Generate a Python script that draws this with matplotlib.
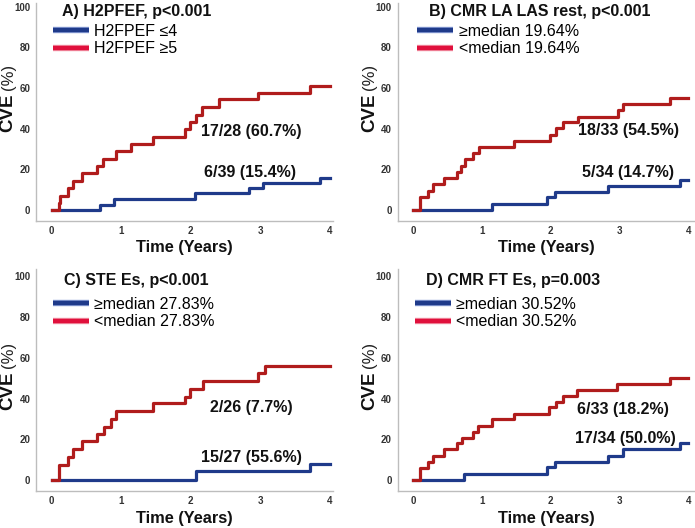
import matplotlib.pyplot as plt
from matplotlib import patheffects as pe

plt.rcParams['font.family'] = ['Liberation Sans', 'DejaVu Sans']

BLUE = '#1f3a8a'
RED = '#b01c1c'
LEG_RED = '#e0103c'

# A) H2FPEF
a_title = 'A) H2PFEF, p<0.001'
a_labels = ['H2FPEF \u22644', 'H2FPEF \u22655']
a_notes = ['17/28 (60.7%)', '6/39 (15.4%)']
a_blue_t = [0, 0.70, 0.89, 2.06, 2.83, 3.04, 3.86, 4.0]
a_blue_y = [0, 2.5, 5.2, 8.2, 10.7, 13.4, 15.6, 15.6]
a_red_t = [0, 0.11, 0.12, 0.24, 0.30, 0.43, 0.65, 0.74, 0.93, 1.14, 1.46,
           1.92, 1.99, 2.07, 2.16, 2.40, 2.97, 3.71, 4.0]
a_red_y = [0, 3.6, 7.1, 11.0, 14.4, 18.4, 21.8, 25.0, 29.0, 32.3, 36.0,
           39.7, 43.4, 46.7, 50.5, 54.4, 57.7, 61.1, 61.1]

# B) CMR LA LAS rest
b_title = 'B) CMR LA LAS rest, p<0.001'
b_labels = ['\u2265median 19.64%', '<median 19.64%']
b_notes = ['18/33 (54.5%)', '5/34 (14.7%)']
b_blue_t = [0, 1.14, 1.94, 2.07, 2.84, 3.88, 4.0]
b_blue_y = [0, 2.95, 6.2, 9.0, 11.8, 14.8, 14.8]
b_red_t = [0, 0.10, 0.22, 0.29, 0.45, 0.64, 0.70, 0.75, 0.87, 0.96, 1.47,
           1.99, 2.08, 2.18, 2.40, 2.98, 3.05, 3.73, 4.0]
b_red_y = [0, 6.6, 9.5, 12.8, 15.6, 18.9, 21.8, 24.9, 27.9, 31.1, 33.9,
           36.9, 40.2, 43.1, 45.9, 49.2, 52.1, 55.2, 55.2]

# C) STE Es
c_title = 'C) STE Es, p<0.001'
c_labels = ['\u2265median 27.83%', '<median 27.83%']
c_notes = ['2/26 (7.7%)', '15/27 (55.6%)']
c_blue_t = [0, 2.08, 3.71, 4.0]
c_blue_y = [0, 4.3, 7.9, 7.9]
c_red_t = [0, 0.11, 0.24, 0.30, 0.43, 0.65, 0.75, 0.86, 0.93, 1.46, 1.92,
           1.99, 2.17, 2.97, 3.06, 4.0]
c_red_y = [0, 7.5, 11.5, 15.2, 19.0, 22.6, 26.2, 30.0, 33.7, 37.6, 40.9,
           44.7, 48.4, 52.4, 56.1, 56.1]

# D) CMR FT Es
d_title = 'D) CMR FT Es, p=0.003'
d_labels = ['\u2265median 30.52%', '<median 30.52%']
d_notes = ['6/33 (18.2%)', '17/34 (50.0%)']
d_blue_t = [0, 0.74, 1.94, 2.07, 2.84, 3.05, 3.88, 4.0]
d_blue_y = [0, 3.0, 6.2, 9.0, 11.8, 15.1, 18.0, 18.0]
d_red_t = [0, 0.10, 0.22, 0.29, 0.45, 0.64, 0.71, 0.87, 0.95, 1.14, 1.47,
           1.97, 2.08, 2.18, 2.39, 2.97, 3.73, 4.0]
d_red_y = [0, 6.1, 9.0, 12.0, 15.1, 18.0, 20.8, 23.8, 26.7, 29.8, 32.5,
           35.6, 38.5, 41.3, 44.3, 47.2, 50.3, 50.3]

xticks = [0, 1, 2, 3, 4]
yticks = [0, 20, 40, 60, 80, 100]


def draw_panel(ax, blue_t, blue_y, red_t, red_y, title, title_x, labels,
               leg_anchor, notes, note_pos, xlim, ylim, ylab_y):
    ax.step(blue_t, blue_y, where='post', color=BLUE, lw=2.3)
    ax.step(red_t, red_y, where='post', color=RED, lw=2.3)

    # legend handles are drawn a bit thicker with a soft halo
    h1, = ax.plot([], [], color=BLUE, lw=3.2, solid_capstyle='butt',
                  path_effects=[pe.Stroke(linewidth=4.6, foreground='#8ea2d8'), pe.Normal()])
    h2, = ax.plot([], [], color=LEG_RED, lw=3.2, solid_capstyle='butt',
                  path_effects=[pe.Stroke(linewidth=4.6, foreground='#f39aac'), pe.Normal()])
    ax.legend([h1, h2], labels, loc='upper left', bbox_to_anchor=leg_anchor,
              frameon=False, fontsize=11.5, handlelength=2.25, handletextpad=0.35,
              labelspacing=0.15, borderpad=0, borderaxespad=0)

    ax.text(title_x, 97.8, title, ha='center', va='center', fontsize=11.5,
            fontweight='bold', color='#111111')
    for txt, (x, y) in zip(notes, note_pos):
        ax.text(x, y, txt, ha='center', va='center', fontsize=11.5,
                fontweight='bold', color='#111111')

    ax.set_xlim(*xlim)
    ax.set_ylim(*ylim)
    ax.set_xticks(xticks)
    ax.set_yticks(yticks)
    ax.tick_params(length=0, labelsize=7, colors='#333333', pad=4)
    for lab in ax.get_xticklabels() + ax.get_yticklabels():
        lab.set_fontweight('bold')
    ax.text(0.5, -0.125, 'Time (Years)', transform=ax.transAxes, ha='center',
            va='center', fontsize=11.8, fontweight='bold', color='#111111')
    # y label: bold "CVE" followed by a lighter "(%)"
    ax.text(-0.094, ylab_y, 'CVE', transform=ax.transAxes, ha='center',
            va='center', rotation=90, fontsize=13.5, fontweight='bold',
            color='#111111')
    ax.annotate('(%)', xy=(-0.094, ylab_y), xycoords='axes fraction',
                xytext=(0, 26), textcoords='offset points', ha='center',
                va='center', rotation=90, fontsize=12, color='#222222')
    for side in ['top', 'right']:
        ax.spines[side].set_visible(False)
    for side in ['left', 'bottom']:
        ax.spines[side].set_color('#bdbdbd')
        ax.spines[side].set_linewidth(1.0)


fig = plt.figure(figsize=(6.95, 5.28), dpi=100)
axA = fig.add_axes([0.0518, 0.582, 0.428, 0.412])
axB = fig.add_axes([0.572, 0.582, 0.428, 0.412])
axC = fig.add_axes([0.0518, 0.0706, 0.428, 0.42])
axD = fig.add_axes([0.572, 0.0706, 0.428, 0.42])

draw_panel(axA, a_blue_t, a_blue_y, a_red_t, a_red_y, a_title, 1.22, a_labels,
           (0.057, 0.904), a_notes, [(2.87, 38.5), (2.85, 18.4)],
           (-0.225, 4.05), (-5.3, 101.8), 0.497)
draw_panel(axB, b_blue_t, b_blue_y, b_red_t, b_red_y, b_title, 1.84, b_labels,
           (0.067, 0.904), b_notes, [(3.13, 39.3), (3.13, 18.4)],
           (-0.227, 4.1), (-5.3, 101.8), 0.497)
draw_panel(axC, c_blue_t, c_blue_y, c_red_t, c_red_y, c_title, 1.22, c_labels,
           (0.057, 0.874), c_notes, [(2.87, 35.7), (2.87, 11.1)],
           (-0.225, 4.05), (-5.25, 103.6), 0.45)
draw_panel(axD, d_blue_t, d_blue_y, d_red_t, d_red_y, d_title, 1.45, d_labels,
           (0.058, 0.874), d_notes, [(3.05, 34.4), (3.08, 20.5)],
           (-0.227, 4.1), (-5.25, 103.6), 0.45)

fig.savefig('out.png', dpi=100)
